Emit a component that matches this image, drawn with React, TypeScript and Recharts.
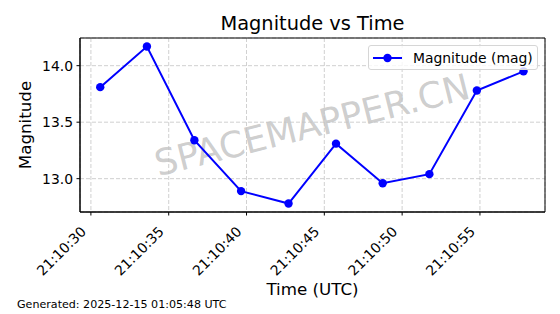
import { LineChart, Line, XAxis, YAxis, CartesianGrid, ReferenceArea, Legend } from 'recharts'

// seconds after 21:10:00 UTC
const timeSeconds = [30.6, 33.6, 36.65, 39.65, 42.7, 45.75, 48.75, 51.75, 54.8, 57.8]
const magnitudes = [13.81, 14.17, 13.34, 12.89, 12.78, 13.31, 12.96, 13.04, 13.78, 13.95]

const xTicks = [30, 35, 40, 45, 50, 55]
const xTickLabels = ['21:10:30', '21:10:35', '21:10:40', '21:10:45', '21:10:50', '21:10:55']
const yTicks = [13.0, 13.5, 14.0]

const X_DOMAIN: [number, number] = [29.3, 59.18]
const Y_DOMAIN: [number, number] = [12.705, 14.245]

const FONT = '"DejaVu Sans", sans-serif'
const BLUE = '#0000ff'

const data = timeSeconds.map((t, i) => ({ t, mag: magnitudes[i] }))

const TimeTick = ({ x, y, payload }) => {
  const label = xTickLabels[xTicks.indexOf(payload.value)] ?? ''
  return (
    <g transform={`translate(${x - 4},${y + 15})`}>
      <text
        x={0}
        y={0}
        textAnchor="end"
        transform="rotate(-45)"
        fontFamily={FONT}
        fontSize={13.9}
        fill="#000"
      >
        {label}
      </text>
    </g>
  )
}

const LegendBox = () => (
  <div
    style={{
      width: 170,
      height: 25,
      boxSizing: 'border-box',
      border: '1px solid #d6d6d6',
      borderRadius: 3,
      background: 'rgba(255,255,255,0.8)',
      display: 'flex',
      alignItems: 'center',
      fontFamily: FONT,
      fontSize: 13.9,
      color: '#000',
    }}
  >
    <svg width={44} height={22} style={{ flex: 'none' }}>
      <line x1={4} y1={11} x2={33} y2={11} stroke={BLUE} strokeWidth={2} />
      <circle cx={18.5} cy={11} r={4.2} fill={BLUE} />
    </svg>
    <span style={{ whiteSpace: 'nowrap' }}>Magnitude (mag)</span>
  </div>
)

export default function App() {
  return (
    <div style={{ position: 'absolute', left: 0, top: 0, width: 560, height: 314, background: '#fff', fontFamily: FONT }}>
      <div
        style={{
          position: 'absolute',
          left: 312,
          top: 125,
          transform: 'translate(-50%, -50%) rotate(-14deg)',
          fontSize: 36,
          color: 'rgba(128,128,128,0.4)',
          whiteSpace: 'nowrap',
        }}
      >
        SPACEMAPPER.CN
      </div>
      <div style={{ position: 'absolute', left: 0, top: 0 }}>
        <LineChart width={560} height={314} data={data} margin={{ top: 38, right: 15, bottom: 0, left: 0 }}>
          <CartesianGrid stroke="#c4c4c4" strokeDasharray="4 2" strokeWidth={0.8} />
          <XAxis
            dataKey="t"
            type="number"
            domain={X_DOMAIN}
            ticks={xTicks}
            allowDataOverflow
            height={102}
            tickSize={3.5}
            tickLine={{ stroke: '#000' }}
            axisLine={{ stroke: '#000' }}
            tick={<TimeTick />}
            interval={0}
          />
          <YAxis
            type="number"
            domain={Y_DOMAIN}
            ticks={yTicks}
            allowDataOverflow
            width={80}
            tickSize={3.5}
            tickMargin={3.5}
            tickLine={{ stroke: '#000' }}
            axisLine={{ stroke: '#000' }}
            tick={{ fill: '#000', fontSize: 13.9, fontFamily: FONT }}
            tickFormatter={(v) => v.toFixed(1)}
            interval={0}
          />
          <ReferenceArea
            x1={X_DOMAIN[0]}
            x2={X_DOMAIN[1]}
            y1={Y_DOMAIN[0]}
            y2={Y_DOMAIN[1]}
            fill="none"
            stroke="#000"
            strokeWidth={1}
          />
          <Line
            type="linear"
            dataKey="mag"
            name="Magnitude (mag)"
            stroke={BLUE}
            strokeWidth={2}
            dot={{ r: 4.2, fill: BLUE, stroke: BLUE, strokeWidth: 0 }}
            isAnimationActive={false}
          />
          <Legend
            layout="vertical"
            align="center"
            verticalAlign="middle"
            content={() => <LegendBox />}
            wrapperStyle={{ top: 45, left: 368, width: 170, height: 25 }}
          />
        </LineChart>
      </div>
      <div style={{ position: 'absolute', left: 312.5, top: 23, transform: 'translate(-50%, -50%)', fontSize: 19.4, whiteSpace: 'nowrap' }}>
        Magnitude vs Time
      </div>
      <div style={{ position: 'absolute', left: 24.5, top: 125, transform: 'translate(-50%, -50%) rotate(-90deg)', fontSize: 16.7, whiteSpace: 'nowrap' }}>
        Magnitude
      </div>
      <div style={{ position: 'absolute', left: 312.5, top: 289, transform: 'translate(-50%, -50%)', fontSize: 16.7, whiteSpace: 'nowrap' }}>
        Time (UTC)
      </div>
      <div style={{ position: 'absolute', left: 17, top: 304, transform: 'translate(0, -50%)', fontSize: 11.1, whiteSpace: 'nowrap' }}>
        Generated: 2025-12-15 01:05:48 UTC
      </div>
    </div>
  )
}
